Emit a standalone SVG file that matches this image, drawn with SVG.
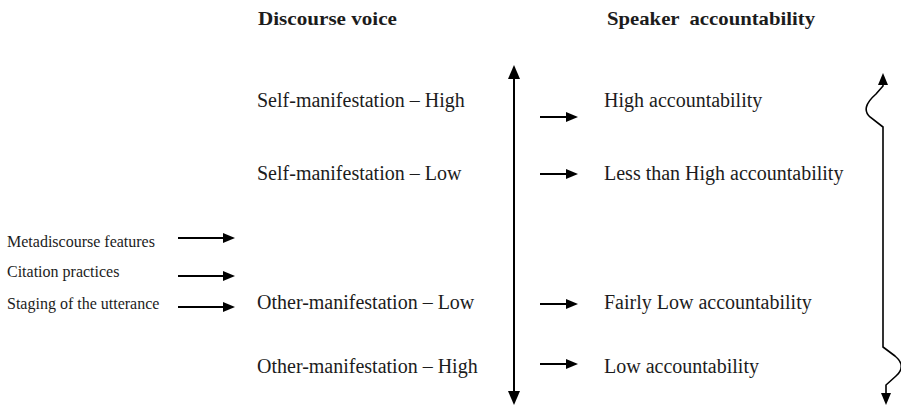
<svg xmlns="http://www.w3.org/2000/svg" width="901" height="406" viewBox="0 0 901 406">
<style>
  text { font-family: "Liberation Serif", "Times New Roman", serif; fill: #1c1c1c; }
  .title { font-size: 19px; font-weight: bold; }
  .item { font-size: 20px; }
  .small { font-size: 16px; }
  .conn { stroke: #000; stroke-width: 2; fill: none; }
</style>
<defs>
  <marker id="ah" viewBox="0 0 12 10" markerWidth="12" markerHeight="10" refX="4" refY="5" orient="auto-start-reverse" markerUnits="userSpaceOnUse">
    <path d="M0,0 L12,5 L0,10 z" fill="#000"/>
  </marker>
  <marker id="ahBig" viewBox="0 0 14 12" markerWidth="14" markerHeight="12" refX="4" refY="6" orient="auto-start-reverse" markerUnits="userSpaceOnUse">
    <path d="M0,0 L14,6 L0,12 z" fill="#000"/>
  </marker>
</defs>

<g id="title-discourse-voice"><text class="title" x="258" y="25" textLength="139" lengthAdjust="spacingAndGlyphs">Discourse voice</text></g>
<g id="title-speaker-accountability"><text class="title" x="607" y="25" xml:space="preserve" textLength="208" lengthAdjust="spacingAndGlyphs">Speaker  accountability</text></g>

<g id="left-metadiscourse"><text class="small" x="7" y="247">Metadiscourse features</text></g>
<g id="left-citation"><text class="small" x="7" y="277">Citation practices</text></g>
<g id="left-staging"><text class="small" x="7" y="309">Staging of the utterance</text></g>

<g id="voice-self-high"><text class="item" x="257" y="107">Self-manifestation – High</text></g>
<g id="voice-self-low"><text class="item" x="257" y="180">Self-manifestation – Low</text></g>
<g id="voice-other-low"><text class="item" x="257" y="309">Other-manifestation – Low</text></g>
<g id="voice-other-high"><text class="item" x="257" y="373">Other-manifestation – High</text></g>

<g id="acc-high"><text class="item" x="604" y="107">High accountability</text></g>
<g id="acc-less-than-high"><text class="item" x="604" y="180">Less than High accountability</text></g>
<g id="acc-fairly-low"><text class="item" x="604" y="309">Fairly Low accountability</text></g>
<g id="acc-low"><text class="item" x="604" y="373">Low accountability</text></g>

<g id="connectors">
  <line class="conn" x1="178" y1="238" x2="227" y2="238" marker-end="url(#ah)"/>
  <line class="conn" x1="178" y1="276" x2="227" y2="276" marker-end="url(#ah)"/>
  <line class="conn" x1="178" y1="307" x2="227" y2="307" marker-end="url(#ah)"/>

  <line class="conn" x1="514" y1="75" x2="514" y2="395" marker-start="url(#ahBig)" marker-end="url(#ahBig)"/>

  <line class="conn" x1="540" y1="117" x2="570" y2="117" marker-end="url(#ah)"/>
  <line class="conn" x1="540" y1="174" x2="570" y2="174" marker-end="url(#ah)"/>
  <line class="conn" x1="540" y1="304" x2="570" y2="304" marker-end="url(#ah)"/>
  <line class="conn" x1="540" y1="364" x2="570" y2="364" marker-end="url(#ah)"/>

  <path class="conn" style="stroke-width:1.6" d="M883,81 L883,86 L876,94 Q860,108 870,117 L883,127 L883,347 L895,356 Q907,366 896,376 L886,385 L886,397" marker-start="url(#ah)" marker-end="url(#ah)"/>
</g>
</svg>
